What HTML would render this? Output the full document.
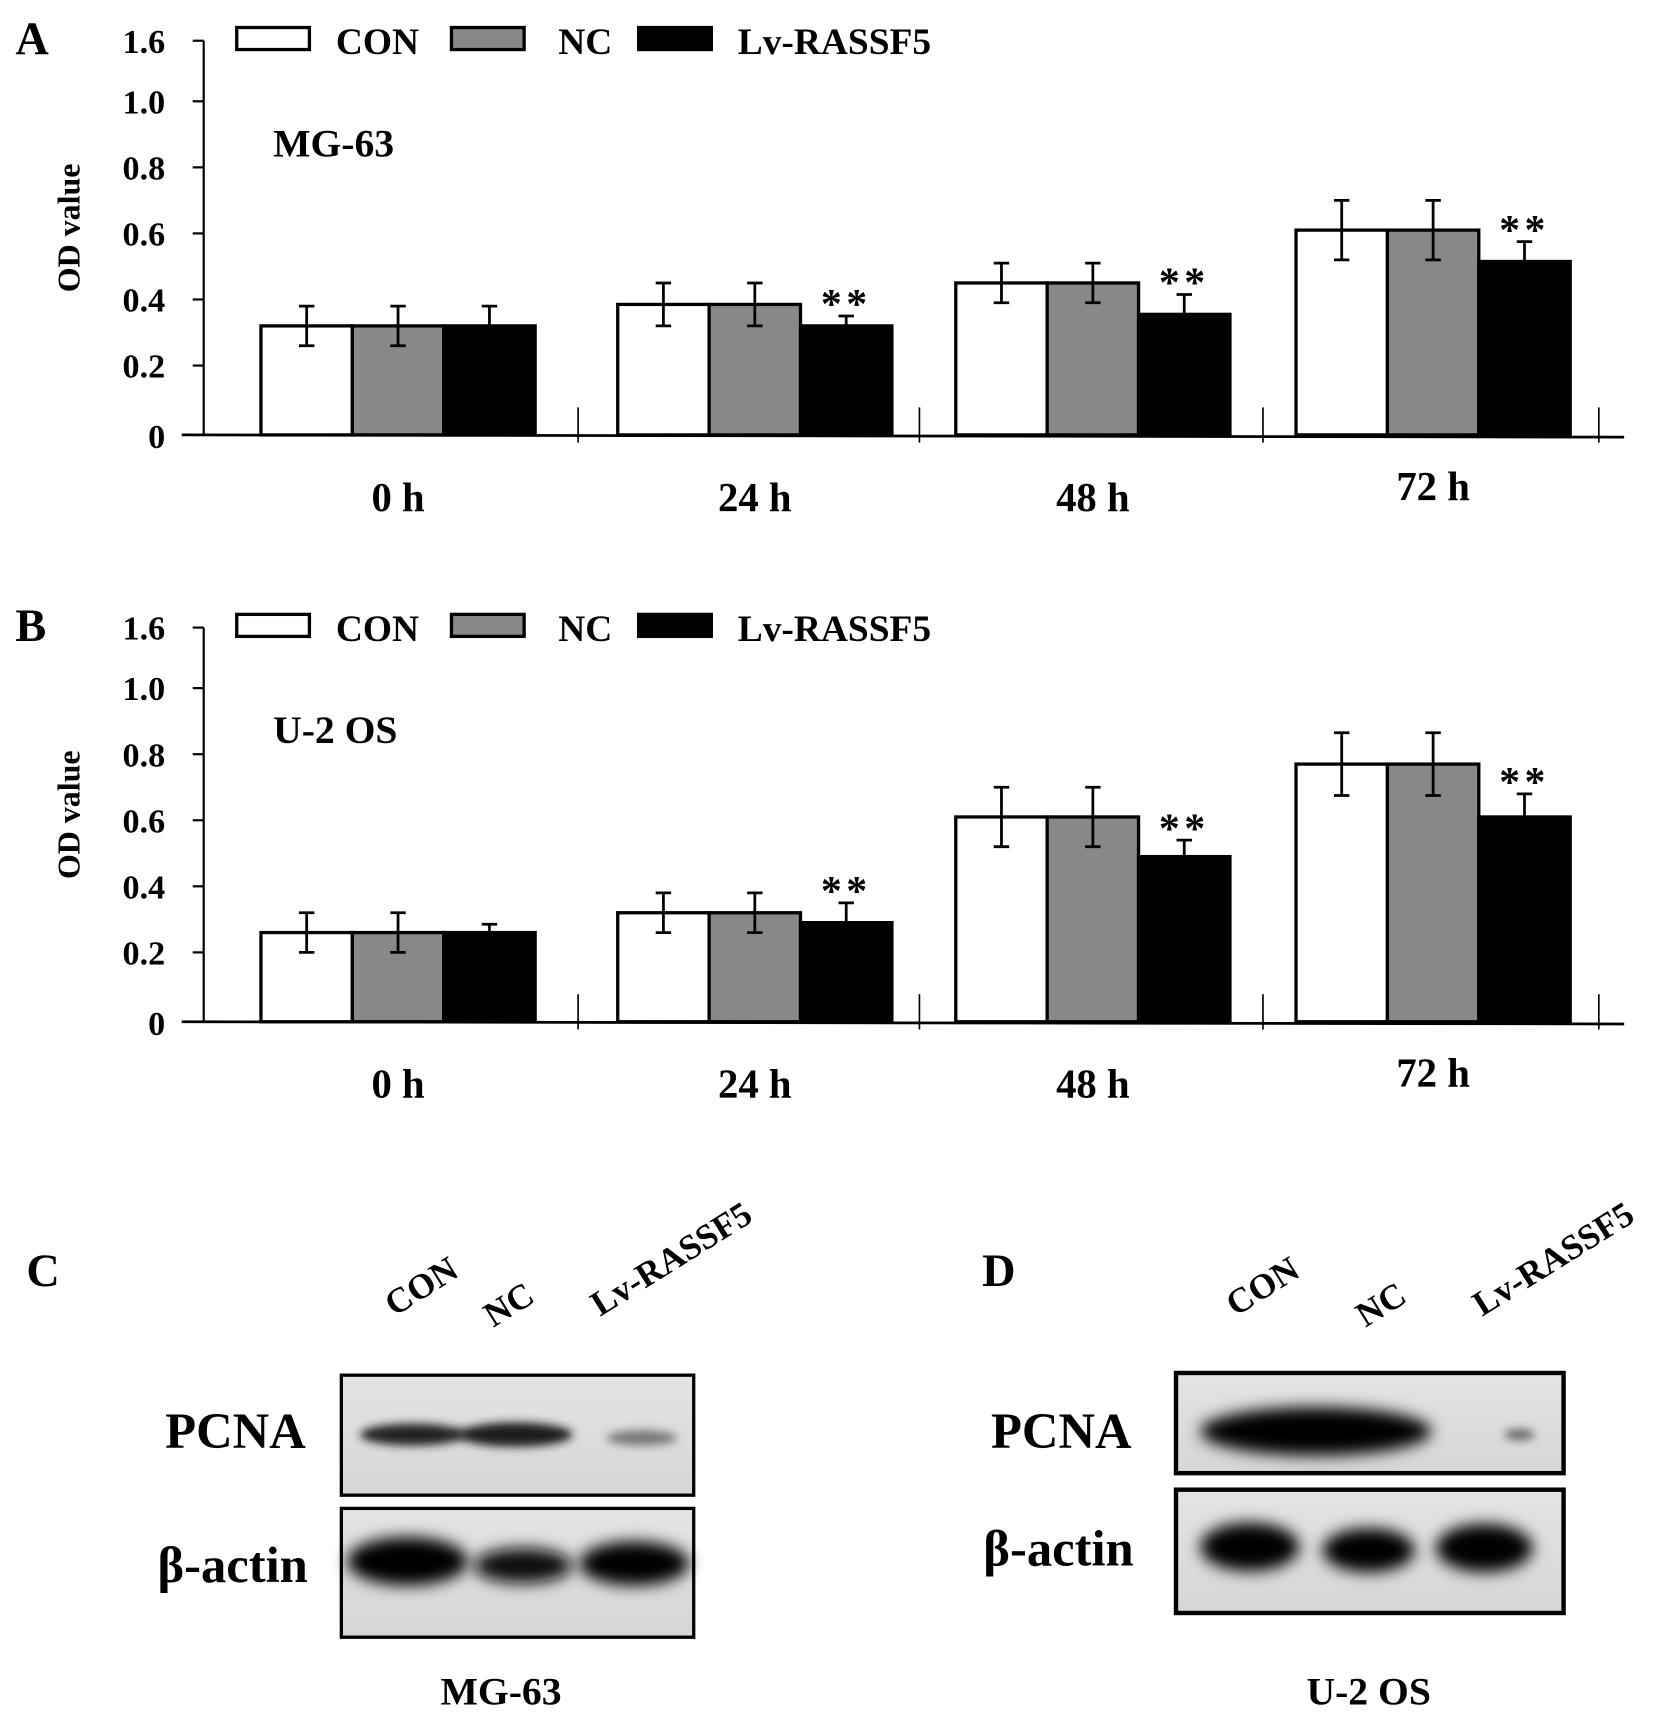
<!DOCTYPE html>
<html><head><meta charset="utf-8"><style>
html,body{margin:0;padding:0;background:#fff}
svg{display:block}
text{font-family:"Liberation Serif",serif;font-weight:bold;fill:#000}
</style></head><body>
<svg id="fig" width="1677" height="1722" viewBox="0 0 1523 1564" preserveAspectRatio="none">
<defs>
<filter id="blur" x="-30%" y="-80%" width="160%" height="260%"><feGaussianBlur stdDeviation="7"/></filter>
<filter id="blur2" x="-30%" y="-80%" width="160%" height="260%"><feGaussianBlur stdDeviation="4"/></filter>
<linearGradient id="bgg" x1="0" y1="0" x2="0" y2="1"><stop offset="0" stop-color="#e4e4e4"/><stop offset="1" stop-color="#d6d6d6"/></linearGradient>
</defs>
<g id="panelA"></g>
<g id="panelB"></g>
<g id="blots">
<text x="24" y="1168" font-size="42">C</text>
<text x="892" y="1168" font-size="42">D</text>
<text transform="translate(358,1196) rotate(-32)" font-size="32" font-weight="normal">CON</text>
<text transform="translate(448,1206) rotate(-32)" font-size="32" font-weight="normal">NC</text>
<text transform="translate(545,1196) rotate(-32)" font-size="32" font-weight="normal">Lv-RASSF5</text>
<text transform="translate(1122,1196) rotate(-32)" font-size="32" font-weight="normal">CON</text>
<text transform="translate(1240,1206) rotate(-32)" font-size="32" font-weight="normal">NC</text>
<text transform="translate(1346,1196) rotate(-32)" font-size="32" font-weight="normal">Lv-RASSF5</text>
<rect x="310" y="1249" width="320" height="109" fill="url(#bgg)" stroke="#000" stroke-width="3"/>
<ellipse cx="375" cy="1303" rx="48" ry="10" fill="#222" filter="url(#blur2)"/>
<ellipse cx="468" cy="1303" rx="52" ry="11" fill="#1a1a1a" filter="url(#blur2)"/>
<ellipse cx="583" cy="1306" rx="32" ry="7" fill="#777" filter="url(#blur2)"/>
<rect x="310" y="1370" width="320" height="117" fill="url(#bgg)" stroke="#000" stroke-width="3"/>
<ellipse cx="370" cy="1418" rx="55" ry="22" fill="#000" filter="url(#blur)"/>
<ellipse cx="475" cy="1422" rx="45" ry="16" fill="#080808" filter="url(#blur)"/>
<ellipse cx="576" cy="1420" rx="50" ry="20" fill="#000" filter="url(#blur)"/>
<rect x="1068" y="1247" width="352" height="91" fill="url(#bgg)" stroke="#000" stroke-width="4"/>
<ellipse cx="1195" cy="1300" rx="105" ry="22" fill="#000" filter="url(#blur)"/>
<ellipse cx="1380" cy="1303" rx="14" ry="5" fill="#666" filter="url(#blur2)"/>
<rect x="1068" y="1353" width="352" height="112" fill="url(#bgg)" stroke="#000" stroke-width="4"/>
<ellipse cx="1135" cy="1405" rx="45" ry="22" fill="#000" filter="url(#blur)"/>
<ellipse cx="1243" cy="1408" rx="42" ry="20" fill="#000" filter="url(#blur)"/>
<ellipse cx="1348" cy="1406" rx="44" ry="22" fill="#000" filter="url(#blur)"/>
<text x="150" y="1315" font-size="46">PCNA</text>
<text x="143" y="1437" font-size="46">β-actin</text>
<text x="900" y="1315" font-size="46">PCNA</text>
<text x="893" y="1422" font-size="46">β-actin</text>
<text x="455" y="1548" font-size="36" text-anchor="middle">MG-63</text>
<text x="1243" y="1548" font-size="36" text-anchor="middle">U-2 OS</text>
</g>
</svg>
<script>
const categories = ["0 h","24 h","48 h","72 h"];
const groups = ["CON","NC","Lv-RASSF5"];
const yTicks = [0,0.2,0.4,0.6,0.8,1.0];
const yTickLabels = ["0","0.2","0.4","0.6","0.8","1.0"];
const aCon = [0.32,0.385,0.45,0.61];
const aNc = [0.32,0.385,0.45,0.61];
const aLv = [0.32,0.32,0.355,0.515];
const aConErr = [0.06,0.065,0.06,0.09];
const aNcErr = [0.06,0.065,0.06,0.09];
const aLvErr = [0.06,0.03,0.06,0.06];
const aSig = [false,true,true,true];
const bCon = [0.26,0.32,0.61,0.77];
const bNc = [0.26,0.32,0.61,0.77];
const bLv = [0.26,0.29,0.49,0.61];
const bConErr = [0.06,0.06,0.09,0.095];
const bNcErr = [0.06,0.06,0.09,0.095];
const bLvErr = [0.025,0.06,0.05,0.07];
const bSig = [false,true,true,true];

const NS="http://www.w3.org/2000/svg";
function mk(tag,attrs,parent,txt){const e=document.createElementNS(NS,tag);for(const k in attrs)e.setAttribute(k,attrs[k]);if(txt!==undefined)e.textContent=txt;parent.appendChild(e);return e;}
const fills=["#fff","#888","#000"];
const groupStarts=[237,561,868,1177];
const barW=83;

function drawPanel(g,top,letter,cellName,series,errs,sig){
  const base=top+355;
  const y=v=>base-300*v;
  const xCat=i=>groupStarts[i];
  let t=mk('text',{x:14,y:top+12,'font-size':42},g,letter);
  
  
  let ax=mk('line',{x1:185,y1:top,x2:185,y2:base+4,stroke:'#000','stroke-width':2},g);
  
  
  let tk=mk('line',{x1:175,y1:top,x2:185,y2:top,stroke:'#000','stroke-width':2},g);
  
  
  let tl=mk('text',{x:150,y:top+11,'font-size':31,'text-anchor':'end'},g,'1.6');
  
  
  yTicks.forEach((v,i)=>{
    if(v>0){
      const l=mk('line',{x1:175,y1:y(v),x2:185,y2:y(v),stroke:'#000','stroke-width':2},g);
      
      
    }
    const tx=mk('text',{x:150,y:y(v)+(v===0?15:11),'font-size':31,'text-anchor':'end'},g,yTickLabels[i]);
    
    
  });
  const yt=mk('text',{transform:`translate(72,${top+170}) rotate(-90)`,'font-size':29,'text-anchor':'middle'},g,'OD value');
  
  
  const cl=mk('text',{x:248,y:top+105,'font-size':36},g,cellName);
  
  
  const legX=[215,410,580], legT=[305,507,670];
  groups.forEach((n,k)=>{
    const r=mk('rect',{x:legX[k],y:top-12,width:66,height:20,fill:fills[k],stroke:'#000','stroke-width':3},g);
    
    
    const lt=mk('text',{x:legT[k],y:top+12,'font-size':34},g,n);
    
    
  });
  categories.forEach((c,i)=>{
    series.forEach((s,k)=>{
      const x=xCat(i)+k*barW, v=s[i];
      const b=mk('rect',{x:x,y:y(v),width:barW,height:base-y(v)+3,fill:fills[k],stroke:'#000','stroke-width':3},g);
      
      
      const cx=x+barW/2, e=errs[k][i];
      const eg=mk('path',{d:`M${cx},${y(v-e)}V${y(v+e)}M${cx-7},${y(v+e)}H${cx+7}M${cx-7},${y(v-e)}H${cx+7}`,stroke:'#000','stroke-width':2.5,fill:'none'},g);
      
      
    });
    if(sig[i]){
      const cx=xCat(i)+2*barW+barW/2;
      const st=mk('text',{x:cx,y:y(series[2][i]+errs[2][i])+2,'font-size':38,'text-anchor':'middle','letter-spacing':'4'},g,'**');
      
      
    }
    const xl=mk('text',{x:xCat(i)+barW*1.5,y:base+(i===3?62:72),'font-size':37,'text-anchor':'middle'},g,c);
    
    
  });
  const xa=mk('line',{x1:165,y1:base+3,x2:1475,y2:base+5,stroke:'#000','stroke-width':2.5},g);
  
  
  [525,835,1147,1452].forEach(px=>{
    const l=mk('line',{x1:px,y1:base-22,x2:px,y2:base+10,stroke:'#000','stroke-width':1.5},g);
    
    
  });
}
drawPanel(document.getElementById('panelA'),37,'A','MG-63',[aCon,aNc,aLv],[aConErr,aNcErr,aLvErr],aSig);
drawPanel(document.getElementById('panelB'),570,'B','U-2 OS',[bCon,bNc,bLv],[bConErr,bNcErr,bLvErr],bSig);
</script>
</body></html>
